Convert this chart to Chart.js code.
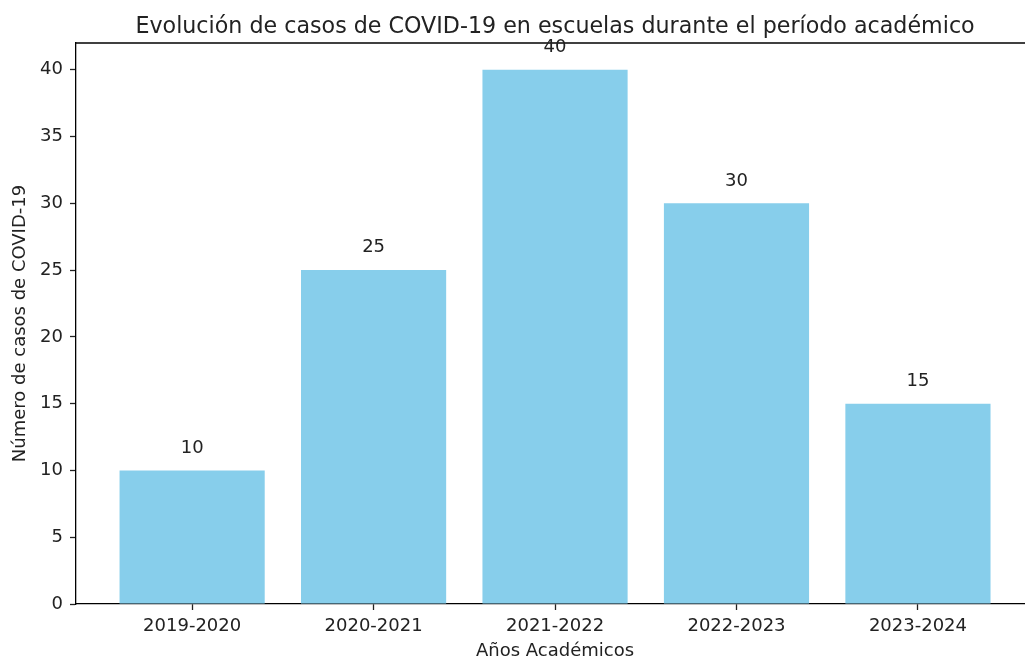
<!DOCTYPE html>
<html>
<head>
<meta charset="utf-8">
<script src="https://cdn.jsdelivr.net/npm/chart.js@4"></script>
<style>
  html, body { margin: 0; padding: 0; background: #fff; overflow: hidden; }
</style>
</head>
<body>
<canvas id="covid-chart" width="1025" height="662"></canvas>
<script>
// Chart data
const years = ['2019-2020', '2020-2021', '2021-2022', '2022-2023', '2023-2024'];
const cases = [10, 25, 40, 30, 15];
const yTicks = [0, 5, 10, 15, 20, 25, 30, 35, 40];

const chartTitle = 'Evolución de casos de COVID-19 en escuelas durante el período académico';
const xTitle = 'Años Académicos';
const yTitle = 'Número de casos de COVID-19';
const fontFamily = "'DejaVu Sans', sans-serif";
const textColor = '#222';

// Title, x label, top spine and value labels drawn on top of the chart
const extrasPlugin = {
  id: 'extras',
  afterDraw(chart) {
    const { ctx, chartArea } = chart;
    const xScale = chart.scales.x;
    const yScale = chart.scales.y;
    const meta = chart.getDatasetMeta(0);
    // the full plot box runs past the right edge, so centre on the middle category
    const centerX = xScale.getPixelForValue((years.length - 1) / 2);
    ctx.save();

    // top spine (the right one falls outside the picture)
    ctx.strokeStyle = '#000';
    ctx.lineWidth = 1.3;
    ctx.beginPath();
    ctx.moveTo(chartArea.left, chartArea.top);
    ctx.lineTo(chartArea.right, chartArea.top);
    ctx.stroke();

    // title
    ctx.fillStyle = textColor;
    ctx.font = `22.2px ${fontFamily}`;
    ctx.textAlign = 'center';
    ctx.textBaseline = 'alphabetic';
    ctx.fillText(chartTitle, centerX, 33);

    // x axis label
    ctx.font = `18px ${fontFamily}`;
    ctx.textBaseline = 'middle';
    ctx.fillText(xTitle, centerX, chart.height - 11);

    // value labels above each bar
    ctx.textBaseline = 'bottom';
    meta.data.forEach((bar, i) => {
      ctx.fillText(String(cases[i]), bar.x, yScale.getPixelForValue(cases[i] + 1));
    });
    ctx.restore();
  }
};

const tickFont = { family: fontFamily, size: 18 };

new Chart(document.querySelector('#covid-chart'), {
  type: 'bar',
  data: {
    datasets: [{
      data: cases.map((v, i) => ({ x: i, y: v })),
      backgroundColor: '#87CEEB',
      borderWidth: 0,
      barPercentage: 0.8,
      categoryPercentage: 1.0
    }]
  },
  options: {
    responsive: false,
    animation: false,
    layout: { padding: { left: 0, top: 43, right: 0, bottom: 0 } },
    plugins: {
      legend: { display: false },
      tooltip: { enabled: false }
    },
    scales: {
      x: {
        type: 'linear',
        min: -0.64,
        max: 4.59,
        offset: false,
        grid: { offset: false, drawOnChartArea: false, drawTicks: true, tickLength: 6, color: '#222', tickWidth: 1.3 },
        border: { display: true, color: '#000', width: 1.3 },
        ticks: {
          stepSize: 1,
          padding: 6,
          color: textColor,
          font: tickFont,
          maxRotation: 0,
          autoSkip: false,
          callback: (value) => years[value]
        },
        afterBuildTicks: (scale) => {
          scale.ticks = years.map((y, i) => ({ value: i }));
        },
        afterFit: (scale) => { scale.height = 58; }
      },
      y: {
        min: 0,
        max: 42,
        grid: { drawOnChartArea: false, drawTicks: true, tickLength: 6, color: '#222', tickWidth: 1.3 },
        border: { display: true, color: '#000', width: 1.3 },
        ticks: {
          padding: 7,
          color: textColor,
          font: tickFont
        },
        afterBuildTicks: (scale) => {
          scale.ticks = yTicks.map((v) => ({ value: v }));
        },
        afterFit: (scale) => { scale.width = 76; },
        title: {
          display: true,
          text: yTitle,
          color: textColor,
          font: tickFont,
          padding: { top: 10, bottom: 0 }
        }
      }
    }
  },
  plugins: [extrasPlugin]
});
</script>
</body>
</html>
